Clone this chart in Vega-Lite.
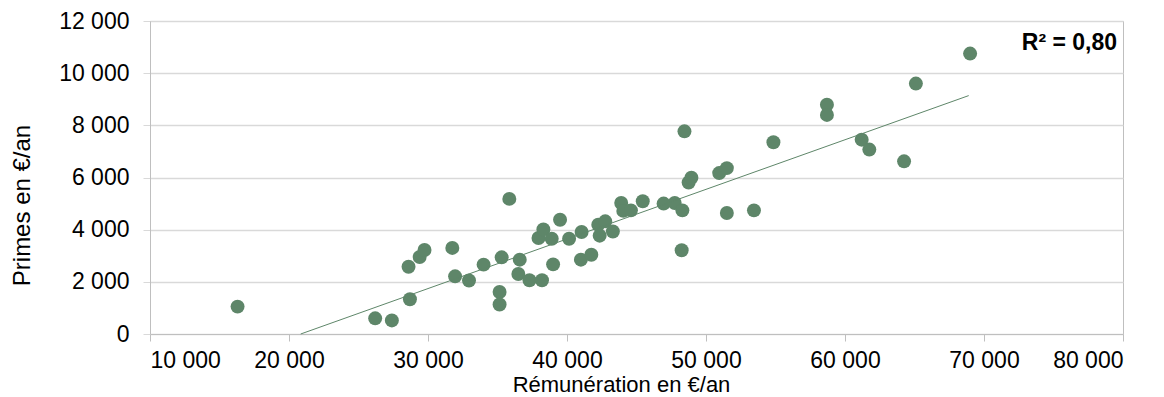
{
  "$schema": "https://vega.github.io/schema/vega-lite/v6.json",
  "autosize": "none",
  "width": 973,
  "height": 313,
  "padding": {"left": 150, "top": 21, "right": 41, "bottom": 63},
  "background": "white",
  "config": {
    "view": {"stroke": "#BFBFBF", "strokeWidth": 1},
    "font": "Liberation Sans"
  },
  "layer": [
    {
      "data": {
        "values": [
          {"r": 16300, "p": 1050}, {"r": 26200, "p": 600}, {"r": 27400, "p": 520},
          {"r": 28700, "p": 1330}, {"r": 28600, "p": 2580}, {"r": 29400, "p": 2950},
          {"r": 29750, "p": 3220}, {"r": 31750, "p": 3300}, {"r": 31950, "p": 2210},
          {"r": 32950, "p": 2050}, {"r": 34000, "p": 2660}, {"r": 35300, "p": 2940},
          {"r": 35150, "p": 1610}, {"r": 35150, "p": 1130}, {"r": 35850, "p": 5180},
          {"r": 36600, "p": 2850}, {"r": 36500, "p": 2300}, {"r": 37300, "p": 2060},
          {"r": 38200, "p": 2060}, {"r": 37950, "p": 3680}, {"r": 38300, "p": 4010},
          {"r": 38900, "p": 3650}, {"r": 39000, "p": 2670}, {"r": 39500, "p": 4380},
          {"r": 40150, "p": 3650}, {"r": 41050, "p": 3910}, {"r": 41000, "p": 2850},
          {"r": 41750, "p": 3040}, {"r": 42250, "p": 4190}, {"r": 42350, "p": 3770},
          {"r": 42750, "p": 4320}, {"r": 43300, "p": 3930}, {"r": 43900, "p": 5020},
          {"r": 44050, "p": 4720}, {"r": 44600, "p": 4740}, {"r": 45450, "p": 5090},
          {"r": 46950, "p": 5000}, {"r": 47750, "p": 5020}, {"r": 48300, "p": 4740},
          {"r": 48450, "p": 7770}, {"r": 48250, "p": 3210}, {"r": 48750, "p": 5810},
          {"r": 48950, "p": 5990}, {"r": 50950, "p": 6170}, {"r": 51500, "p": 6360},
          {"r": 51500, "p": 4640}, {"r": 53450, "p": 4740}, {"r": 54850, "p": 7350},
          {"r": 58700, "p": 8790}, {"r": 58700, "p": 8400}, {"r": 61200, "p": 7450},
          {"r": 61750, "p": 7070}, {"r": 64250, "p": 6620}, {"r": 65100, "p": 9600},
          {"r": 69000, "p": 10750}
        ]
      },
      "mark": {"type": "circle", "size": 195, "color": "#5E8669", "opacity": 1},
      "encoding": {
        "x": {
          "field": "r", "type": "quantitative",
          "scale": {"domain": [10000, 80000], "nice": false, "zero": false},
          "axis": {
            "values": [10000, 20000, 30000, 40000, 50000, 60000, 70000, 80000],
            "labelExpr": "replace(format(datum.value, ','), ',', ' ')",
            "grid": false,
            "domainColor": "#BFBFBF",
            "tickColor": "#BFBFBF",
            "tickSize": 7,
            "labelFontSize": 23,
            "labelColor": "black",
            "labelPadding": 8,
            "title": "Rémunération en €/an",
            "titleFontSize": 22,
            "titleFontWeight": "normal",
            "titleColor": "black",
            "titleX": 471,
            "titlePadding": 2
          }
        },
        "y": {
          "field": "p", "type": "quantitative",
          "scale": {"domain": [0, 12000], "nice": false},
          "axis": {
            "values": [0, 2000, 4000, 6000, 8000, 10000, 12000],
            "labelExpr": "replace(format(datum.value, ','), ',', ' ')",
            "grid": true,
            "gridColor": "#D9D9D9",
            "gridWidth": 1.3,
            "domainColor": "#BFBFBF",
            "tickColor": "#D9D9D9",
            "tickSize": 7,
            "labelFontSize": 23,
            "labelColor": "black",
            "labelPadding": 14,
            "title": "Primes en €/an",
            "titleFontSize": 24,
            "titleFontWeight": "normal",
            "titleColor": "black",
            "titleX": -128,
            "titleY": 184,
            "titleAngle": -90,
            "titleAlign": "center",
            "titleBaseline": "middle"
          }
        }
      }
    },
    {
      "data": {"values": [{"r": 20840, "p": 0}, {"r": 68900, "p": 9140}]},
      "mark": {"type": "line", "color": "#5E8669", "strokeWidth": 1},
      "encoding": {
        "x": {"field": "r", "type": "quantitative"},
        "y": {"field": "p", "type": "quantitative"}
      }
    },
    {
      "data": {"values": [{"r": 79570, "p": 11170, "label": "R² = 0,80"}]},
      "mark": {"type": "text", "align": "right", "baseline": "middle", "font": "Liberation Sans", "fontWeight": "bold", "fontSize": 23, "color": "black"},
      "encoding": {
        "x": {"field": "r", "type": "quantitative"},
        "y": {"field": "p", "type": "quantitative"},
        "text": {"field": "label", "type": "nominal"}
      }
    }
  ]
}
